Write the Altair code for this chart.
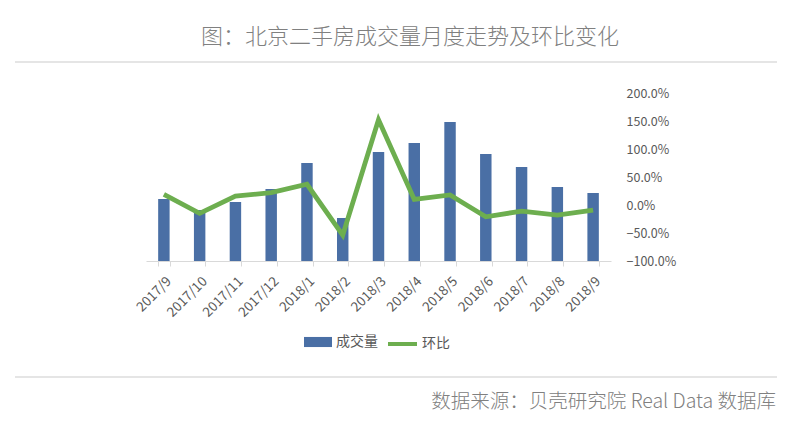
import altair as alt
import pandas as pd

FONT = "Noto Sans CJK SC"
BAR = "#4a6fa5"
GREEN = "#6dae4f"
GRAY_TXT = "#595959"

months = ["2017/9", "2017/10", "2017/11", "2017/12", "2018/1", "2018/2", "2018/3",
          "2018/4", "2018/5", "2018/6", "2018/7", "2018/8", "2018/9"]
volume = [6200, 5100, 5900, 7200, 9800, 4300, 10900, 11800, 13900, 10700, 9400, 7400, 6800]
mom = [0.19, -0.15, 0.16, 0.22, 0.37, -0.54, 1.52, 0.10, 0.18, -0.21, -0.11, -0.18, -0.09]
pct_ticks = [-1.0, -0.5, 0.0, 0.5, 1.0, 1.5, 2.0]

TITLE = "图：北京二手房成交量月度走势及环比变化"
SOURCE = "数据来源：贝壳研究院 Real Data 数据库"

df = pd.DataFrame({
    "月份": months,
    "成交量": volume,
    "环比": mom,
    "s1": ["成交量"] * len(months),
    "s2": ["环比"] * len(months),
})

x = alt.X(
    "月份:N", sort=months, title=None,
    scale=alt.Scale(paddingInner=0.68, paddingOuter=0.34),
    axis=alt.Axis(labelAngle=-45, labelFontSize=13.5, labelColor=GRAY_TXT,
                  domainColor="#d9d9d9", tickColor="#d9d9d9", tickSize=5,
                  tickBand="extent", labelPadding=8, labelFont=FONT, grid=False),
)

bars = alt.Chart(df).mark_bar().encode(
    x=x,
    y=alt.Y("成交量:Q", axis=None, scale=alt.Scale(domain=[0, 16800], nice=False)),
    color=alt.Color(
        "s1:N", scale=alt.Scale(domain=["成交量"], range=[BAR]),
        legend=alt.Legend(orient="none", legendX=158, legendY=235, title=None,
                          symbolType="M-1,-0.36L1,-0.36L1,0.36L-1,0.36Z",
                          symbolSize=784, symbolStrokeWidth=0, labelFontSize=14,
                          labelColor=GRAY_TXT, labelOffset=4, padding=0, labelFont=FONT),
    ),
)

line = alt.Chart(df).mark_line(strokeWidth=4.8).encode(
    x=x,
    y=alt.Y("环比:Q", title=None, scale=alt.Scale(domain=[-1, 2], nice=False),
            axis=alt.Axis(orient="right", values=pct_ticks, format=".1%", grid=False,
                          domain=False, ticks=False, labelPadding=15, labelFontSize=12.5,
                          labelColor=GRAY_TXT, labelFont=FONT)),
    stroke=alt.Stroke(
        "s2:N", scale=alt.Scale(domain=["环比"], range=[GREEN]),
        legend=alt.Legend(orient="none", legendX=240, legendY=234.5, title=None,
                          symbolType="stroke", symbolSize=841, symbolStrokeWidth=4,
                          labelFontSize=14, labelColor=GRAY_TXT, labelOffset=3,
                          padding=0, labelFont=FONT),
    ),
)

title = alt.Chart(pd.DataFrame({"t": [TITLE]})).mark_text(
    fontSize=22, color="#808080", font=FONT, fontWeight=300,
    align="center", baseline="middle"
).encode(text="t:N", x=alt.value(264), y=alt.value(-56))

footer = alt.Chart(pd.DataFrame({"t": [SOURCE]})).mark_text(
    fontSize=19.5, color="#808080", font=FONT, fontWeight=300,
    align="right", baseline="middle"
).encode(text="t:N", x=alt.value(630), y=alt.value(309))

rule_top = alt.Chart(pd.DataFrame({"a": [0]})).mark_rule(color="#cccccc", strokeWidth=1.2).encode(
    x=alt.value(-131), x2=alt.value(631), y=alt.value(-31))
rule_bot = alt.Chart(pd.DataFrame({"a": [0]})).mark_rule(color="#cccccc", strokeWidth=1.2).encode(
    x=alt.value(-131), x2=alt.value(631), y=alt.value(284))

chart = alt.layer(rule_top, rule_bot, title, footer, bars, line).resolve_scale(
    y="independent"
).properties(
    width=465, height=168,
    autosize=alt.AutoSizeParams(type="none"),
    padding={"left": 138, "top": 85, "right": 167, "bottom": 157},
).configure(background="white").configure_view(stroke=None)

chart.save("out.html", embed_options={"renderer": "svg", "actions": False})
